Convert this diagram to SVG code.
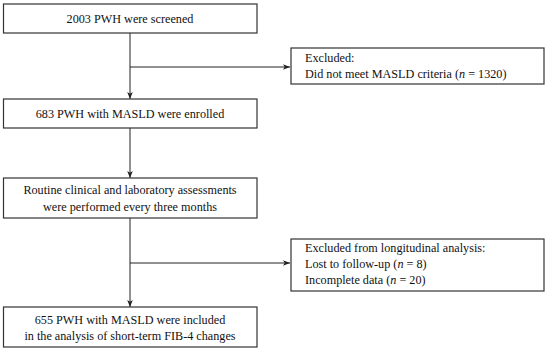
<svg xmlns="http://www.w3.org/2000/svg" width="550" height="352" viewBox="0 0 550 352">
<style>
.box{fill:#fff;stroke:#333;stroke-width:1.2}
.t{font-family:"Liberation Serif","Times New Roman",serif;font-size:12.2px;fill:#111}
.c{text-anchor:middle}
.ln{stroke:#222;stroke-width:1;fill:none}
</style>
<defs>
<marker id="ah" viewBox="0 0 8 8" refX="8" refY="4" markerWidth="7" markerHeight="7" orient="auto" markerUnits="userSpaceOnUse">
<path d="M0,0.8 L8,4 L0,7.2 L2,4 Z" fill="#222"/>
</marker>
</defs>
<rect width="550" height="352" fill="#fff"/>
<g id="connectors">
<line class="ln" x1="130" y1="33" x2="130" y2="99" marker-end="url(#ah)"/>
<line class="ln" x1="130" y1="67" x2="290" y2="67" marker-end="url(#ah)"/>
<line class="ln" x1="130" y1="128" x2="130" y2="178" marker-end="url(#ah)"/>
<line class="ln" x1="130" y1="218" x2="130" y2="307" marker-end="url(#ah)"/>
<line class="ln" x1="130" y1="263" x2="290" y2="263" marker-end="url(#ah)"/>
</g>
<g id="n1">
<rect class="box" x="3.5" y="4" width="253.5" height="29"/>
<text class="t c" x="130" y="23">2003 PWH were screened</text>
</g>
<g id="n2">
<rect class="box" x="291" y="48" width="253" height="36"/>
<text class="t" x="305" y="62">Excluded:</text>
<text class="t" x="305" y="78">Did not meet MASLD criteria (<tspan font-style="italic">n</tspan> = 1320)</text>
</g>
<g id="n3">
<rect class="box" x="3.5" y="99" width="253.5" height="29"/>
<text class="t c" x="130" y="118">683 PWH with MASLD were enrolled</text>
</g>
<g id="n4">
<rect class="box" x="3.5" y="178" width="253.5" height="40"/>
<text class="t c" x="130" y="194">Routine clinical and laboratory assessments</text>
<text class="t c" x="130" y="211">were performed every three months</text>
</g>
<g id="n5">
<rect class="box" x="291" y="239" width="253" height="52"/>
<text class="t" x="305" y="252">Excluded from longitudinal analysis:</text>
<text class="t" x="305" y="268">Lost to follow-up (<tspan font-style="italic">n</tspan> = 8)</text>
<text class="t" x="305" y="284">Incomplete data (<tspan font-style="italic">n</tspan> = 20)</text>
</g>
<g id="n6">
<rect class="box" x="3.5" y="307" width="253.5" height="40"/>
<text class="t c" x="130" y="324">655 PWH with MASLD were included</text>
<text class="t c" x="130" y="340">in the analysis of short-term FIB-4 changes</text>
</g>
</svg>
